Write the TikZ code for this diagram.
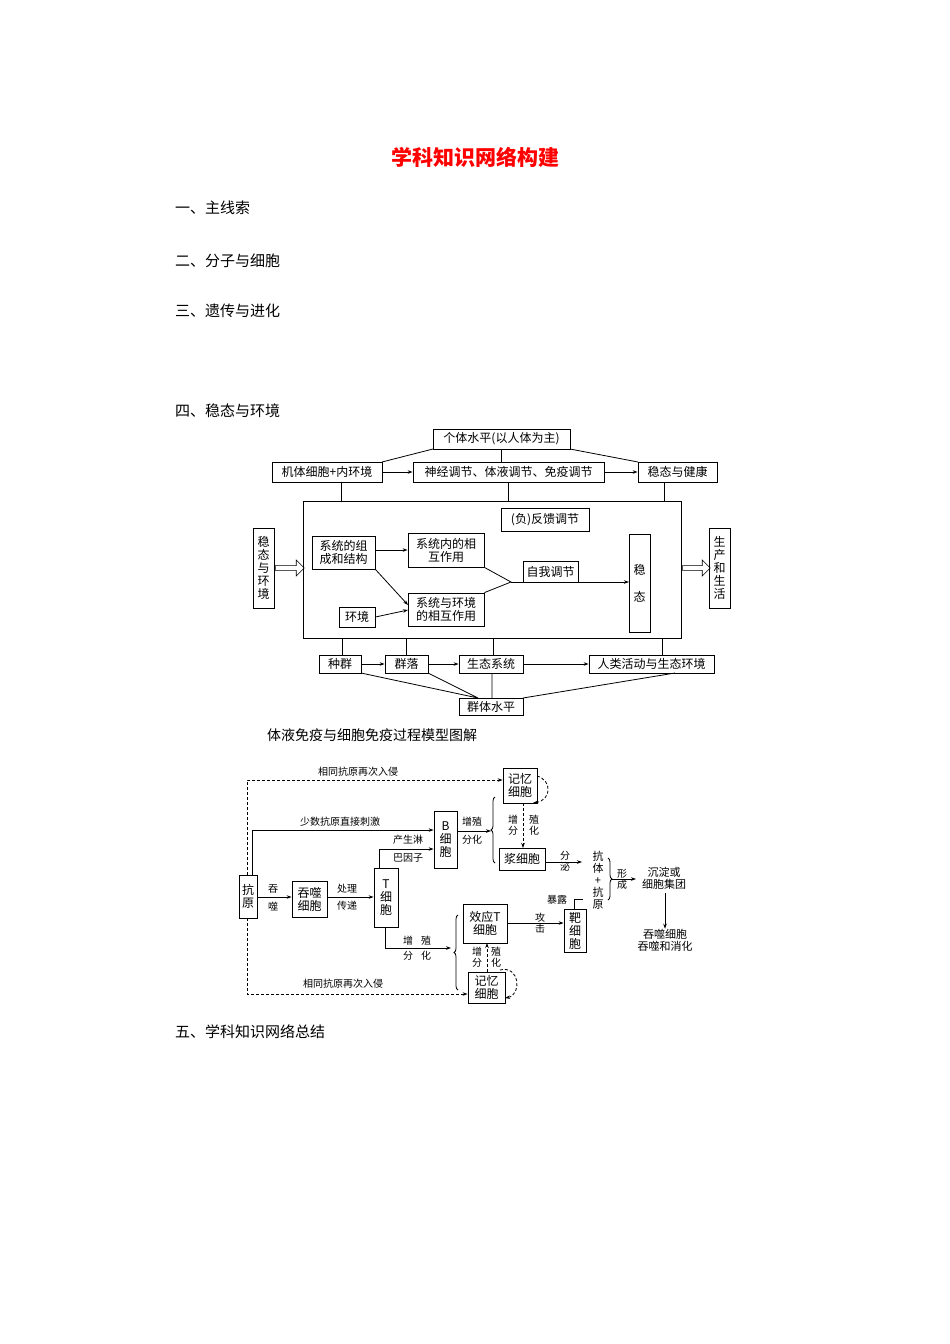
\documentclass[tikz,border=0pt]{standalone}
\usepackage{fontspec}
\setmainfont{Noto Sans CJK SC}
\usetikzlibrary{arrows.meta,decorations.pathreplacing,shapes.arrows}
\newcommand{\bx}[6]{\node[box,minimum width={#4pt-#2pt},minimum height={#5pt-#3pt}] (#1) at ({(#2+#4)/2},{(#3+#5)/2}) {#6};}
\begin{document}
\begin{tikzpicture}[x=1pt,y=-1pt,
 box/.style={draw,line width=0.8pt,inner sep=0pt,align=center,font=\fontsize{12}{13}\selectfont},
 lbl/.style={font=\fontsize{10}{11}\selectfont,inner sep=0pt,align=center},
 ln/.style={line width=0.8pt},
 arr/.style={ln,-{Stealth[length=5pt,width=3.5pt]}},
 darr/.style={arr,densely dashed},
 sec/.style={anchor=west,font=\fontsize{15}{17}\selectfont,inner sep=0pt}]
\useasboundingbox (0,0) rectangle (950,1344);
\node[font=\fontsize{21}{23}\selectfont\bfseries,text=red] (title) at (475,157) {学科知识网络构建};
\node[sec] (s1) at (175,208) {一、主线索};
\node[sec] (s2) at (175,261) {二、分子与细胞};
\node[sec] (s3) at (175,311) {三、遗传与进化};
\node[sec] (s4) at (175,411) {四、稳态与环境};
\node[sec] (s5) at (175,1032) {五、学科知识网络总结};
% diagram 1
\bx{ind}{433}{429}{570}{449}{个体水平(以人体为主)}
\bx{jt}{272}{462}{382}{482}{机体细胞+内环境}
\bx{sj}{413}{462}{604}{482}{神经调节、体液调节、免疫调节}
\bx{wj}{638}{462}{717}{482}{稳态与健康}
\draw[ln] (433,449) -- (382,462) (570,449) -- (638,462) (501.5,449) -- (501.5,462);
\draw[arr] (jt) -- (sj); \draw[arr] (sj) -- (wj);
\node[draw,line width=0.8pt,minimum width=378pt,minimum height=137pt,inner sep=0pt] (big) at (492,569.5) {};
\draw[ln] (341,482) -- (341,501) (508,482) -- (508,501) (664,482) -- (664,501);
\bx{fk}{501}{508}{589}{531}{(负)反馈调节}
\bx{wh}{253}{528}{274}{608}{稳\\态\\与\\环\\境}
\bx{sh}{709}{528}{730}{608}{生\\产\\和\\生\\活}
\node[single arrow,draw,line width=0.6pt,minimum height=29pt,minimum width=16pt,single arrow head extend=3pt,inner sep=1pt] (ha1) at (288.5,568) {};
\node[single arrow,draw,line width=0.6pt,minimum height=28pt,minimum width=16pt,single arrow head extend=3pt,inner sep=1pt] (ha2) at (695,568) {};
\bx{zc}{312}{536}{375}{569}{系统的组\\成和结构}
\bx{xn}{408}{533}{484}{567}{系统内的相\\互作用}
\bx{xh}{408}{593}{484}{626}{系统与环境\\的相互作用}
\bx{hj}{339}{607}{375}{627}{环境}
\bx{zw}{523}{561}{578}{582}{自我调节}
\bx{wt}{629}{534}{650}{632}{稳\\[14pt]态}
\coordinate (m) at (511,582);
\draw[arr] (zc.east|-xn.west) -- (xn.west);
\draw[arr] (zc.south east) -- (408,605);
\draw[arr] (hj.east) -- (408,610);
\draw[ln] (xn.south east) -- (m) -- (xh.north east);
\draw[arr] (m) -- (629,582);
\bx{zq}{319}{655}{361}{673}{种群}
\bx{ql}{385}{655}{428}{673}{群落}
\bx{st}{459}{655}{523}{673}{生态系统}
\bx{rl}{589}{655}{714}{673}{人类活动与生态环境}
\draw[arr] (zq) -- (ql); \draw[arr] (ql) -- (st); \draw[arr] (st) -- (rl);
\draw[ln] (342,638) -- (342,655) (406,638) -- (406,655) (493,638) -- (493,655) (662,638) -- (662,655);
\bx{qt}{459}{698}{523}{715}{群体水平}
\draw[ln] (361,673) -- (478,698) (428,673) -- (478,698) (492,673) -- (492,698) (675,673) -- (523,698);
\node[font=\fontsize{14}{16}\selectfont] (t2) at (372,735) {体液免疫与细胞免疫过程模型图解};
% diagram 2
\bx{ky}{239}{875}{257}{918}{抗\\原}
\bx{ts}{292}{881}{327}{917}{吞噬\\细胞}
\bx{tc}{374}{868}{398}{927}{T\\细\\胞}
\bx{bc}{434}{811}{457}{868}{B\\细\\胞}
\bx{jy1}{503}{768}{537}{803}{记忆\\细胞}
\bx{jx}{499}{848}{545}{870}{浆细胞}
\bx{xy}{463}{904}{507}{943}{效应T\\细胞}
\bx{bx}{564}{909}{586}{952}{靶\\细\\胞}
\bx{jy2}{468}{972}{505}{1003}{记忆\\细胞}
\draw[darr] (247,875) -- (247,780) -- (jy1.west|-0,780);
\node[lbl] (l1) at (358,772) {相同抗原再次入侵};
\draw[arr] (252,875) -- (252,830) -- (bc.west|-0,830);
\node[lbl] (l2) at (340,822) {少数抗原直接刺激};
\draw[arr] (ky.east|-0,897) -- (ts.west|-0,897);
\node[lbl] (l3) at (273,889) {吞}; \node[lbl] (l4) at (273,906) {噬};
\draw[arr] (ts.east|-0,897) -- (tc.west|-0,897);
\node[lbl] (l5) at (347,889) {处理}; \node[lbl] (l6) at (347,906) {传递};
\draw[arr] (379,868) -- (379,849) -- (bc.west|-0,849);
\node[lbl] (l7) at (408,840) {产生淋}; \node[lbl] (l8) at (408,858) {巴因子};
\coordinate (b1) at (491,831);
\draw[arr] (bc.east|-0,831) -- (b1);
\node[lbl] (l9) at (472,822) {增殖}; \node[lbl] (l10) at (472,840) {分化};
\draw[ln,decorate,decoration={brace,amplitude=4pt}] (495,863) -- (495,797);
\draw[darr] (523,803) -- (523,848);
\node[lbl] (l11) at (513,825) {增\\分}; \node[lbl] (l12) at (534,825) {殖\\化};
\draw[darr] (537,776) .. controls (552,780) and (552,800) .. (533,803);
\coordinate (k1) at (582,862);
\draw[arr] (jx.east|-0,862) -- (k1);
\node[lbl] (l13) at (565,861) {分\\泌};
\node[font=\fontsize{11}{12}\selectfont,align=center,inner sep=0pt] (kt) at (598,880) {抗\\体\\+\\抗\\原};
\draw[ln,decorate,decoration={brace,amplitude=4pt}] (608,858) -- (608,900);
\node[lbl] (l14) at (622,879) {形\\成};
\node[font=\fontsize{11}{12}\selectfont,align=center,inner sep=0pt] (cd) at (664,878) {沉淀或\\细胞集团};
\draw[arr] (612,879) -- (636,879);
\node[font=\fontsize{11}{12}\selectfont,align=center,inner sep=0pt] (ts2) at (665,940) {吞噬细胞\\吞噬和消化};
\draw[arr] (665,893) -- (ts2.north);
\coordinate (b2) at (451,948);
\draw[arr] (385,927) -- (385,948) -- (b2);
\node[lbl] (l15) at (417,941) {增\hspace{8pt}殖}; \node[lbl] (l16) at (417,956) {分\hspace{8pt}化};
\draw[ln,decorate,decoration={brace,amplitude=4pt}] (458,990) -- (458,915);
\draw[arr] (xy.east|-0,923) -- (bx.west|-0,923);
\node[lbl] (l17) at (540,923) {攻\\击};
\draw[ln] (574,909) -- (574,899) -- (583,899);
\node[lbl] (l18) at (557,900) {暴露};
\draw[darr] (487,972) -- (487,943);
\node[lbl] (l19) at (477,957) {增\\分}; \node[lbl] (l20) at (496,957) {殖\\化};
\draw[darr] (500,970) .. controls (520,965) and (522,995) .. (505,998);
\draw[darr] (247,918) -- (247,994) -- (jy2.west|-0,994);
\node[lbl] (l21) at (343,984) {相同抗原再次入侵};
\end{tikzpicture}
\end{document}
